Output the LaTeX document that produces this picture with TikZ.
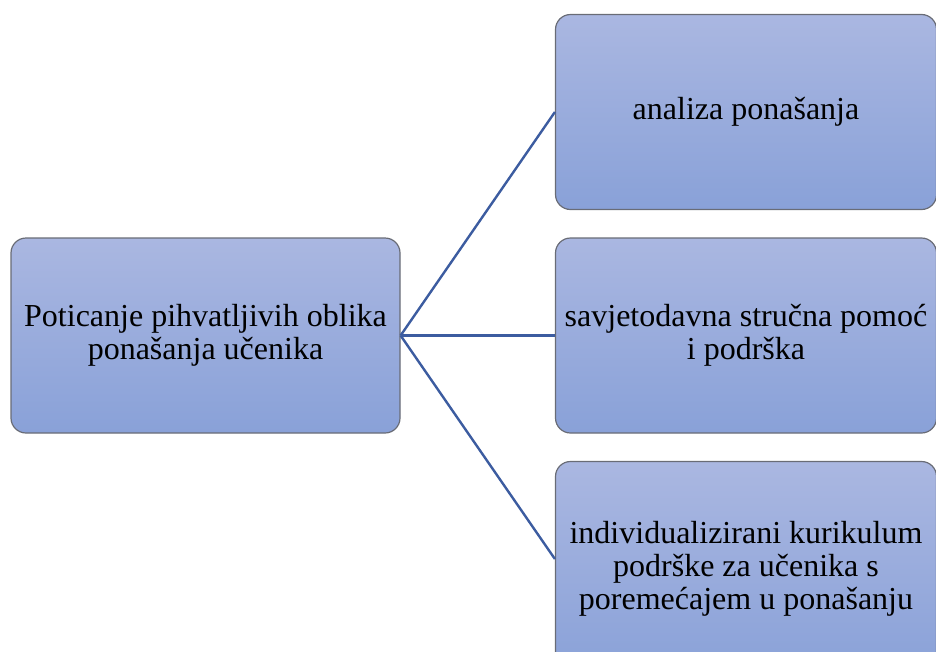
\documentclass[tikz,border=0pt]{standalone}
\usepackage{fontspec}
\setmainfont{Liberation Serif}
\usetikzlibrary{positioning}
\definecolor{boxtop}{RGB}{170,183,225}
\definecolor{boxbottom}{RGB}{137,161,216}
\definecolor{boxline}{RGB}{105,108,118}
\definecolor{linkblue}{RGB}{60,92,160}
\tikzset{
  box/.style={
    draw=boxline, line width=1.2pt,
    rounded corners=15pt,
    top color=boxtop, bottom color=boxbottom,
    minimum width=381pt, minimum height=195pt,
    inner sep=0pt, align=center,
    font=\fontsize{32}{33}\selectfont
  },
  link/.style={draw=linkblue, line width=2.4pt}
}
\begin{document}
\begin{tikzpicture}
      \useasboundingbox (0pt,0pt) rectangle (936pt,-651pt);
      \node [box, minimum width=389pt] (Root) at (205.5pt,-335.5pt) {Poticanje pihvatljivih oblika\\ponašanja učenika};
      \node [box, on grid, right=540.5pt of Root] (Mid) {savjetodavna stručna pomoć\\i podrška};
      \node [box, on grid, above=223.5pt of Mid] (Top) {analiza ponašanja};
      \node [box, on grid, below=233.5pt of Mid, minimum height=215pt] (Bot) {individualizirani kurikulum\\podrške za učenika s\\poremećajem u ponašanju};
      \draw [link] (Root.east) -- (Top.west);
      \draw [link] (Root.east) -- (Mid.west);
      \draw [link] (Root.east) -- ([yshift=10pt]Bot.west);
    \end{tikzpicture}
\end{document}
